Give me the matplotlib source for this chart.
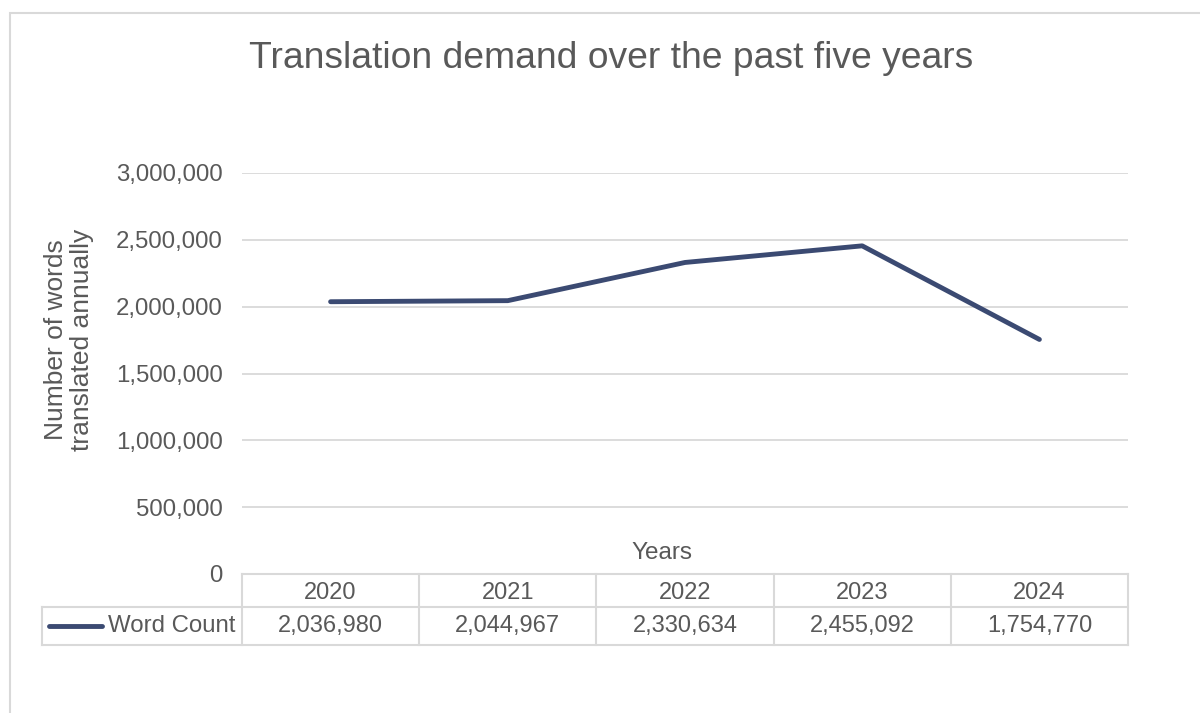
import matplotlib.pyplot as plt
from matplotlib.lines import Line2D
from matplotlib.patches import Rectangle
from matplotlib.transforms import blended_transform_factory
from matplotlib.ticker import FuncFormatter

plt.rcParams['font.family'] = ['Liberation Sans', 'DejaVu Sans']

years = ['2020', '2021', '2022', '2023', '2024']
word_count = [2036980, 2044967, 2330634, 2455092, 1754770]
series_name = 'Word Count'

text_col = '#595959'
grid_col = '#D9D9D9'
line_col = '#3B4A72'

W, H = 1200, 713
fig = plt.figure(figsize=(W / 100, H / 100), dpi=100)

def fx(px):
    return px / W

def fy(py):
    return 1 - py / H

# chart border
fig.add_artist(Rectangle((fx(10), fy(740)), fx(1210), fy(13) - fy(740),
                         transform=fig.transFigure, fill=False,
                         edgecolor=grid_col, linewidth=1.5))

ax = fig.add_axes([fx(242), fy(574), fx(1128) - fx(242), fy(173) - fy(574)])
x = list(range(len(years)))
ax.plot(x, word_count, color=line_col, linewidth=3.5, solid_capstyle='round')
ax.set_xlim(-0.5, len(years) - 0.5)
ax.set_ylim(0, 3000000)
ax.set_yticks(range(0, 3000001, 500000))
ax.yaxis.set_major_formatter(FuncFormatter(lambda v, p: f'{int(v):,}'))
ax.tick_params(axis='y', length=0, pad=14, labelsize=17.3, labelcolor=text_col)
ax.set_xticks([])
ax.grid(axis='y', color=grid_col, linewidth=1.3)
ax.set_axisbelow(True)
for s in ax.spines.values():
    s.set_visible(False)

fig.text(fx(611), fy(58), 'Translation demand over the past five years',
         ha='center', va='center', fontsize=26.8, color=text_col)
fig.text(fx(69), fy(340), 'Number of words\ntranslated annually', rotation=90,
         ha='center', va='center', fontsize=19, color=text_col, linespacing=1.1)
fig.text(fx(662), fy(553), 'Years', ha='center', va='center',
         fontsize=17.5, color=text_col)

# data table below the axis
tr = blended_transform_factory(ax.transData, fig.transFigure)
row_top, row_mid, row_bot = fy(574), fy(607), fy(645)
lw = 1.5
fig.add_artist(Line2D([-0.5, len(years) - 0.5], [row_top, row_top],
                      transform=tr, color=grid_col, lw=lw, clip_on=False))
fig.add_artist(Line2D([fx(42), fx(1128)], [row_mid, row_mid],
                      transform=fig.transFigure, color=grid_col, lw=lw))
fig.add_artist(Line2D([fx(42), fx(1128)], [row_bot, row_bot],
                      transform=fig.transFigure, color=grid_col, lw=lw))
fig.add_artist(Line2D([fx(42), fx(42)], [row_mid, row_bot],
                      transform=fig.transFigure, color=grid_col, lw=lw))
for i in range(len(years) + 1):
    fig.add_artist(Line2D([i - 0.5, i - 0.5], [row_top, row_bot],
                          transform=tr, color=grid_col, lw=lw, clip_on=False))
for i, (yr, v) in enumerate(zip(years, word_count)):
    fig.text(i, (row_top + row_mid) / 2 - 0.003, yr, transform=tr, ha='center',
             va='center', fontsize=17, color=text_col)
    fig.text(i, (row_mid + row_bot) / 2, f'{v:,}', transform=tr, ha='center',
             va='center', fontsize=17, color=text_col)

# legend key inside table
fig.add_artist(Line2D([fx(49), fx(102)], [(row_mid + row_bot) / 2] * 2,
                      transform=fig.transFigure, color=line_col, lw=3.5,
                      solid_capstyle='round'))
fig.text(fx(108), (row_mid + row_bot) / 2, series_name, ha='left', va='center',
         fontsize=17.3, color=text_col)

fig.savefig('out.png', dpi=100)
